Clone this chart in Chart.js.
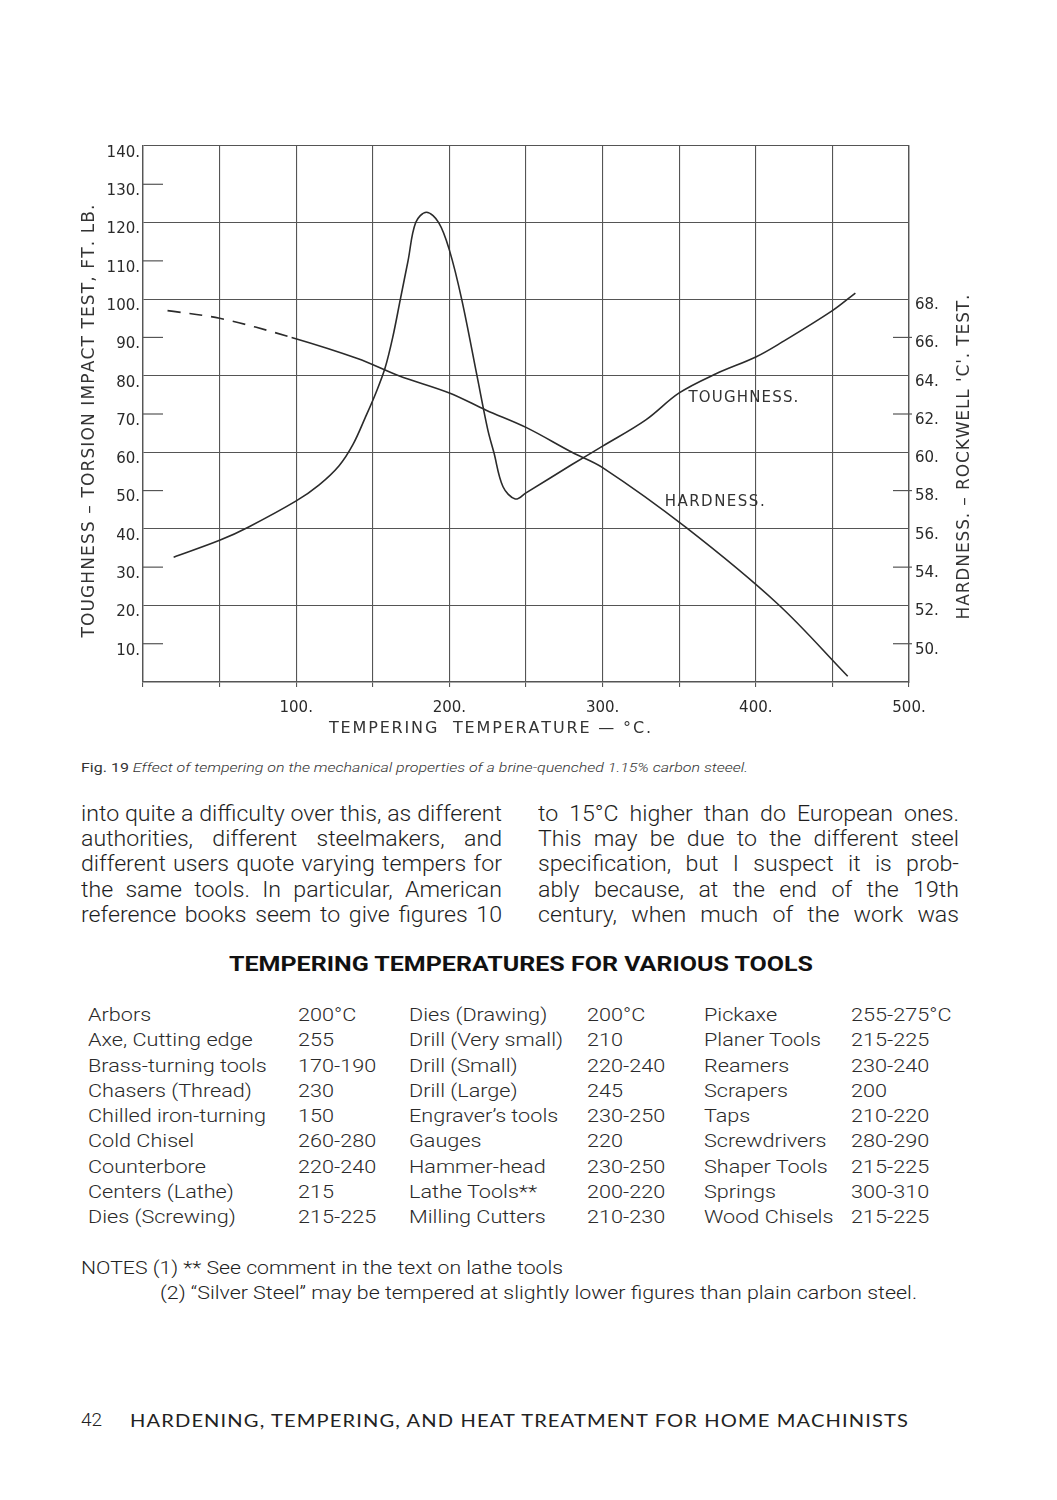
<!DOCTYPE html>
<html>
<head>
<meta charset="utf-8">
<script src="https://cdn.jsdelivr.net/npm/chart.js@4.4.1/dist/chart.umd.min.js"></script>
<style>
  html, body { margin: 0; padding: 0; background: #fff; }
  body { width: 1057px; height: 1500px; position: relative; overflow: hidden;
         font-family: Roboto, "Liberation Sans", sans-serif; color: #222; }
  .abs { position: absolute; white-space: nowrap; transform-origin: 0 50%; }
  #chartBox { position: absolute; left: 40px; top: 130px; width: 960px; height: 620px; }
  .col { position: absolute; width: 421px; }
  .ln { font-weight: 300; font-size: 21.5px; line-height: 25.2px; height: 25.2px;
        width: 490px; text-align: justify; text-align-last: justify;
        transform-origin: 0 0; color: #1e1e1e; overflow: visible; }
  .cell { position: absolute; white-space: nowrap; font-weight: 300; font-size: 19px;
          line-height: 24px; color: #2a2a2a; transform-origin: 0 50%; }
</style>
</head>
<body>

<div id="chartBox"><canvas id="chart"></canvas></div>

<div class="abs" id="caption" data-w="667" style="left:81px; top:760px; font-size:13px; line-height:16px; color:#333;">
  <span style="font-weight:400;">Fig. 19</span> <i style="font-weight:300;">Effect of tempering on the mechanical properties of a brine-quenched 1.15% carbon steeel.</i>
</div>

<div class="col" style="left:81px; top:801px;">
  <div class="ln">into quite a difficulty over this, as different</div>
  <div class="ln">authorities, different steelmakers, and</div>
  <div class="ln">different users quote varying tempers for</div>
  <div class="ln">the same tools. In particular, American</div>
  <div class="ln">reference books seem to give figures 10</div>
</div>
<div class="col" style="left:538px; top:801px;">
  <div class="ln">to 15°C higher than do European ones.</div>
  <div class="ln">This may be due to the different steel</div>
  <div class="ln">specification, but I suspect it is prob-</div>
  <div class="ln">ably because, at the end of the 19th</div>
  <div class="ln">century, when much of the work was</div>
</div>

<div class="abs" id="title" data-w="584" style="left:229px; top:952px; font-size:20px; line-height:24px; font-weight:700; color:#111;">TEMPERING TEMPERATURES FOR VARIOUS TOOLS</div>

<div id="table"></div>

<div class="abs" data-w="482" style="left:81px; top:1256px; font-size:19px; line-height:24px; font-weight:300; color:#222;">NOTES (1) ** See comment in the text on lathe tools</div>
<div class="abs" data-w="757" style="left:160px; top:1281px; font-size:19px; line-height:24px; font-weight:300; color:#222;">(2) “Silver Steel” may be tempered at slightly lower figures than plain carbon steel.</div>

<div class="abs" style="left:81px; top:1408px; font-size:19px; line-height:24px; font-weight:300; color:#222;">42</div>
<div class="abs" data-w="779" style="left:130px; top:1408px; font-family:Lato, sans-serif; font-size:18px; line-height:24px; font-weight:400; color:#222; letter-spacing:1px;">HARDENING, TEMPERING, AND HEAT TREATMENT FOR HOME MACHINISTS</div>

<script>
// toughness curve, torsion impact test (ft. lb.) against tempering temperature (°C)
const toughTemp  = [20, 50, 69, 100, 115, 128, 137, 145, 152, 158, 163, 168, 173, 178, 185, 193, 200, 208, 218, 225, 229, 235, 243, 250, 280, 300, 328, 350, 374, 400, 416, 450, 465];
const toughValue = [32.6, 37, 40.5, 47.3, 51.5, 56.5, 62, 69, 75.5, 82, 90, 100, 110, 120, 122.7, 120, 112.8, 100, 80, 66, 60, 51, 47.8, 49.4, 56.8, 61.6, 68.4, 75.5, 80.5, 84.9, 88.5, 97, 101.6];

// hardness curve, Rockwell 'C' (dashed below dashedUntil)
const hardTemp  = [16, 50, 97, 140, 167, 200, 224, 250, 280, 300, 354, 414, 460];
const hardValue = [67.4, 67.0, 66.0, 64.9, 64.0, 63.1, 62.2, 61.3, 60.0, 59.2, 56.1, 52.1, 48.3];
const dashedUntil = 97;

// tick labels
const tempTicks = [100, 200, 300, 400, 500];
const toughMinor = [10, 30, 50, 70, 90, 110, 130];
const hardTicks = [50, 52, 54, 56, 58, 60, 62, 64, 66, 68];
const hardMinor = [50, 54, 58, 62, 66];

// tempering table
const toolsA = ["Arbors", "Axe, Cutting edge", "Brass-turning tools", "Chasers (Thread)", "Chilled iron-turning", "Cold Chisel", "Counterbore", "Centers (Lathe)", "Dies (Screwing)"];
const tempsA = ["200°C", "255", "170-190", "230", "150", "260-280", "220-240", "215", "215-225"];
const toolsB = ["Dies (Drawing)", "Drill (Very small)", "Drill (Small)", "Drill (Large)", "Engraver’s tools", "Gauges", "Hammer-head", "Lathe Tools**", "Milling Cutters"];
const tempsB = ["200°C", "210", "220-240", "245", "230-250", "220", "230-250", "200-220", "210-230"];
const toolsC = ["Pickaxe", "Planer Tools", "Reamers", "Scrapers", "Taps", "Screwdrivers", "Shaper Tools", "Springs", "Wood Chisels"];
const tempsC = ["255-275°C", "215-225", "230-240", "200", "210-220", "280-290", "215-225", "300-310", "215-225"];

const ink = "#2b2b2b";
const gridInk = "#555";
const tickFont = { family: "'DejaVu Sans', sans-serif", size: 15 };

// builds the table rows
const table = document.getElementById("table");
const colX = [88, 298, 409, 587, 704, 851];
[toolsA, tempsA, toolsB, tempsB, toolsC, tempsC].forEach((col, c) => {
  col.forEach((txt, r) => {
    const d = document.createElement("div");
    d.className = "cell";
    d.style.left = colX[c] + "px";
    d.style.top = (1003 + r * 25.25) + "px";
    d.textContent = txt;
    table.appendChild(d);
  });
});

// natural width of a string in the style of a given element
function naturalWidth(el, text) {
  const probe = document.createElement("span");
  const cs = getComputedStyle(el);
  probe.style.cssText = "position:absolute;visibility:hidden;white-space:nowrap;";
  probe.style.font = cs.font;
  probe.style.letterSpacing = cs.letterSpacing;
  probe.textContent = text;
  document.body.appendChild(probe);
  const w = probe.getBoundingClientRect().width;
  probe.remove();
  return w;
}

// stretches / squeezes text to its width on the page
function fitWidths() {
  document.querySelectorAll("[data-w]").forEach((el) => {
    el.style.transform = "none";
    const w = el.getBoundingClientRect().width;
    el.style.transform = "scaleX(" + (el.dataset.w / w) + ")";
  });

  // body columns: condense so the tightest line just fills the column
  const lines = document.querySelectorAll(".ln");
  const w1 = naturalWidth(lines[0], lines[0].textContent) + 1;
  const s = 421 / w1;
  lines.forEach((el) => {
    el.style.width = w1 + "px";
    el.style.transform = "scaleX(" + s + ")";
  });

  // table cells: match the width of the widest entry
  const cells = document.querySelectorAll(".cell");
  const t = 178 / naturalWidth(cells[0], "Chilled iron-turning");
  cells.forEach((el) => { el.style.transform = "scaleX(" + t + ")"; });
}
fitWidths();
document.fonts.ready.then(fitWidths);

// draws a string spread out to a given length, centred on x,y
function spacedText(ctx, text, x, y, width, rot) {
  ctx.save();
  ctx.translate(x, y);
  if (rot) ctx.rotate(rot);
  const chars = [...text];
  let natural = 0;
  chars.forEach((c) => { natural += ctx.measureText(c).width; });
  const extra = (width - natural) / (chars.length - 1);
  let cx = -width / 2;
  ctx.textBaseline = "middle";
  ctx.textAlign = "left";
  chars.forEach((c) => {
    ctx.fillText(c, cx, 0);
    cx += ctx.measureText(c).width + extra;
  });
  ctx.restore();
}

// short inward tick marks, axis titles and curve names
const decorations = {
  id: "decorations",
  afterDraw(chart) {
    const { ctx, chartArea: a, scales } = chart;
    ctx.save();
    ctx.strokeStyle = gridInk;
    ctx.lineWidth = 1.2;
    toughMinor.forEach((v) => {
      const py = scales.y.getPixelForValue(v);
      ctx.beginPath(); ctx.moveTo(a.left, py); ctx.lineTo(a.left + 20, py); ctx.stroke();
    });
    hardMinor.forEach((v) => {
      const py = scales.y1.getPixelForValue(v);
      ctx.beginPath(); ctx.moveTo(a.right - 16, py); ctx.lineTo(a.right + 3, py); ctx.stroke();
    });

    ctx.fillStyle = "#333";
    ctx.font = "17px 'DejaVu Sans', sans-serif";
    spacedText(ctx, "TOUGHNESS – TORSION IMPACT TEST, FT. LB.", a.left - 53, a.top + 275, 433, -Math.PI / 2);
    spacedText(ctx, "HARDNESS. – ROCKWELL 'C'. TEST.", a.right + 56, a.top + 311, 325, -Math.PI / 2);
    ctx.font = "16px 'DejaVu Sans', sans-serif";
    spacedText(ctx, "TEMPERING  TEMPERATURE — °C.", a.left + 347, a.bottom + 47, 322, 0);

    ctx.font = "15px 'DejaVu Sans', sans-serif";
    spacedText(ctx, "TOUGHNESS.", scales.x.getPixelForValue(356) + 55, scales.y.getPixelForValue(74.2), 110, 0);
    spacedText(ctx, "HARDNESS.", scales.x.getPixelForValue(340.5) + 50, scales.y.getPixelForValue(47), 100, 0);
    ctx.restore();
  }
};

new Chart(document.getElementById("chart"), {
  type: "line",
  data: {
    datasets: [
      {
        label: "Toughness",
        data: toughTemp.map((t, i) => ({ x: t, y: toughValue[i] })),
        yAxisID: "y",
        borderColor: ink,
        borderWidth: 1.6,
        pointRadius: 0,
        tension: 0.35,
        fill: false,
      },
      {
        label: "Hardness",
        data: hardTemp.map((t, i) => ({ x: t, y: hardValue[i] })),
        yAxisID: "y1",
        borderColor: ink,
        borderWidth: 1.6,
        pointRadius: 0,
        tension: 0.35,
        fill: false,
        segment: {
          borderDash: (ctx) => (ctx.p1.parsed.x <= dashedUntil ? [13, 9] : undefined),
        },
      },
    ],
  },
  options: {
    responsive: true,
    maintainAspectRatio: false,
    animation: false,
    layout: { padding: { top: 16, left: 0, right: 0, bottom: 0 } },
    plugins: { legend: { display: false }, tooltip: { enabled: false } },
    scales: {
      x: {
        type: "linear",
        min: 0,
        max: 500,
        afterFit: (s) => { s.height = 68; },
        ticks: {
          stepSize: 50,
          color: "#2a2a2a",
          font: tickFont,
          padding: 12,
          maxRotation: 0,
          autoSkip: false,
          callback: (v) => (tempTicks.includes(v) ? v + "." : ""),
        },
        grid: { color: gridInk, lineWidth: 1.1, tickLength: 5, tickColor: gridInk },
        border: { display: true, color: gridInk, width: 1.4 },
      },
      y: {
        position: "left",
        min: 0,
        max: 140,
        afterFit: (s) => { s.width = 103; },
        ticks: {
          stepSize: 10,
          color: "#2a2a2a",
          font: tickFont,
          padding: 3,
          labelOffset: 7,
          callback: (v) => (v > 0 ? v + "." : ""),
        },
        grid: {
          drawTicks: false,
          lineWidth: 1.1,
          color: (ctx) => (ctx.tick && ctx.tick.value % 20 === 0 ? gridInk : "rgba(0,0,0,0)"),
        },
        border: { display: true, color: gridInk, width: 1.4 },
      },
      y1: {
        position: "right",
        min: 48,
        max: 76,
        afterFit: (s) => { s.width = 91; },
        ticks: {
          stepSize: 2,
          color: "#2a2a2a",
          font: tickFont,
          padding: 6,
          labelOffset: 6,
          callback: (v) => (hardTicks.includes(v) ? v + "." : ""),
        },
        grid: { display: false, drawTicks: false },
        border: { display: true, color: gridInk, width: 1.4 },
      },
    },
  },
  plugins: [decorations],
});
</script>
</body>
</html>
